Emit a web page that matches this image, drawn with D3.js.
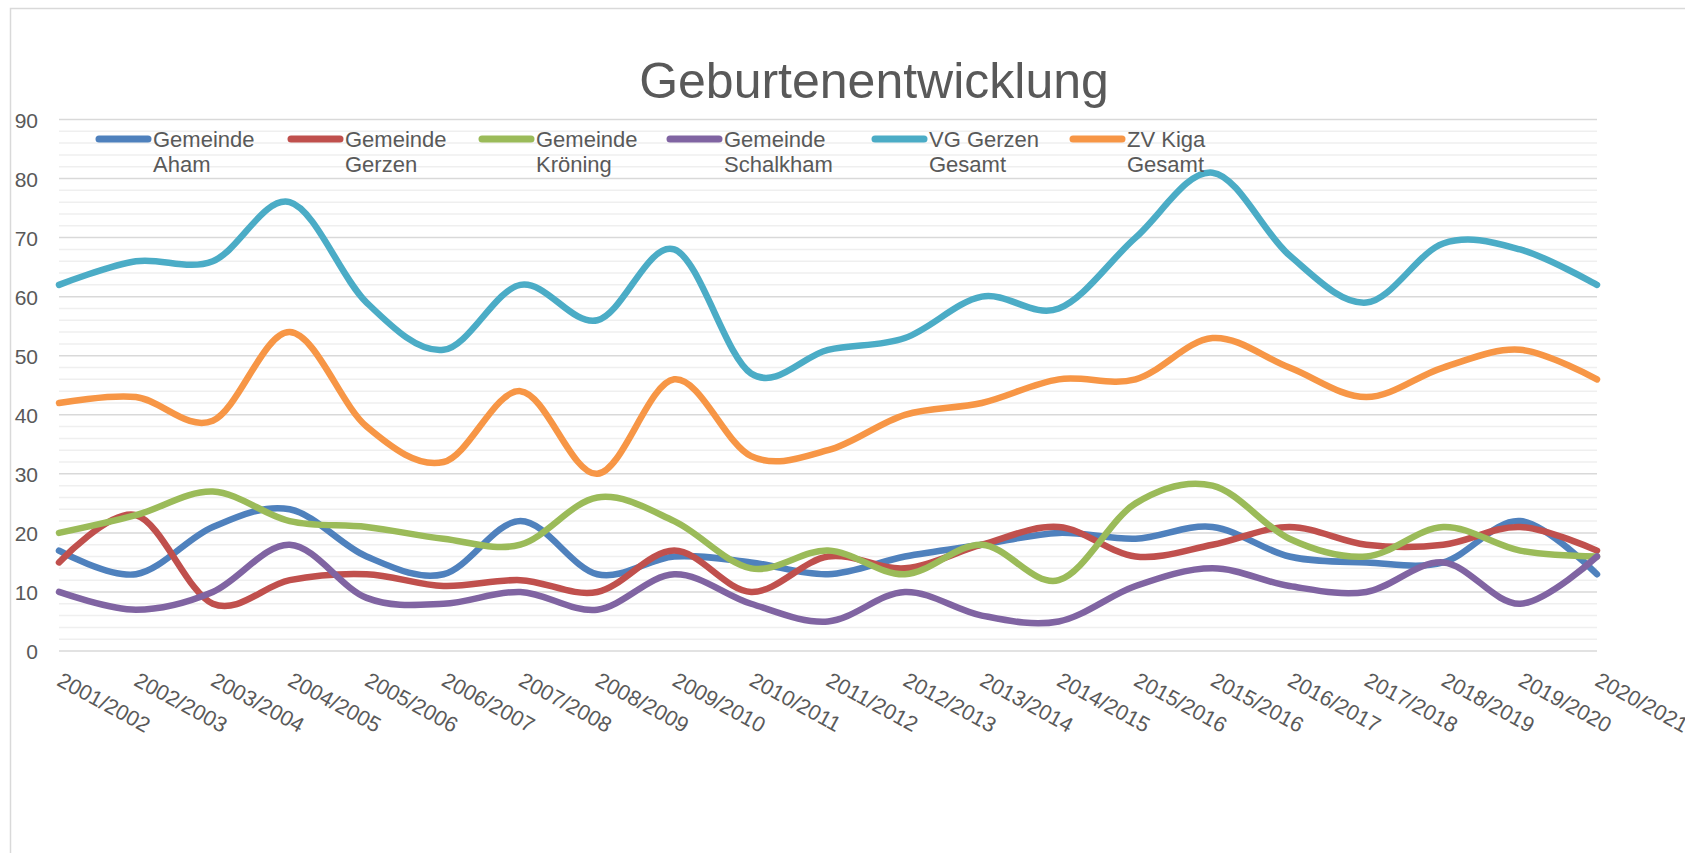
<!DOCTYPE html>
<html>
<head>
<meta charset="utf-8">
<script src="https://cdnjs.cloudflare.com/ajax/libs/d3/7.8.5/d3.min.js"></script>
<style>
	body { margin: 0; background: #fff; }
	svg text { font-family: "Liberation Sans", Arial, sans-serif; fill: #595959; }
</style>
</head>
<body>
<div id="chart"></div>
<script>
// Data
var years = ["2001/2002","2002/2003","2003/2004","2004/2005","2005/2006","2006/2007","2007/2008",
	"2008/2009","2009/2010","2010/2011","2011/2012","2012/2013","2013/2014","2014/2015",
	"2015/2016","2015/2016","2016/2017","2017/2018","2018/2019","2019/2020","2020/2021"];
var aham      = [17,13,21,24,16,13,22,13,16,15,13,16,18,20,19,21,16,15,15,22,13];
var gerzen    = [15,23, 8,12,13,11,12,10,17,10,16,14,18,21,16,18,21,18,18,21,17];
var kroening  = [20,23,27,22,21,19,18,26,22,14,17,13,18,12,25,28,19,16,21,17,16];
var schalkham = [10, 7,10,18, 9, 8,10, 7,13, 8, 5,10, 6, 5,11,14,11,10,15, 8,16];
var vgGesamt  = [62,66,66,76,59,51,62,56,68,47,51,53,60,58,70,81,67,59,69,68,62];
var zvGesamt  = [42,43,39,54,38,32,44,30,46,33,34,40,42,46,46,53,48,43,48,51,46];
var seriesNames = [["Gemeinde","Aham"],["Gemeinde","Gerzen"],["Gemeinde","Kröning"],
	["Gemeinde","Schalkham"],["VG Gerzen","Gesamt"],["ZV Kiga","Gesamt"]];
var yTicks = [0,10,20,30,40,50,60,70,80,90];

var series = [aham, gerzen, kroening, schalkham, vgGesamt, zvGesamt];
var colors = ["#4F81BD","#C0504D","#9BBB59","#8064A2","#4BACC6","#F79646"];

// Geometry
var W = 1685, H = 853;
var margin = {left: 59, right: 88, top: 119.5, bottom: 202};
var legendX = [96, 288, 479, 667, 872, 1070];

var svg = d3.select("#chart")
	.append("svg")
		.attr("width", W)
		.attr("height", H);

// outer chart frame (runs off the page on the right / bottom)
svg.append("rect")
	.attr("x", 10.5).attr("y", 8.5)
	.attr("width", W + 20).attr("height", H + 20)
	.attr("fill", "none")
	.attr("stroke", "#d9d9d9")
	.attr("stroke-width", 1.5);

// Scales
var x = d3.scalePoint()
	.domain(d3.range(years.length))
	.range([margin.left, W - margin.right]);
var y = d3.scaleLinear()
	.domain([0, 90])
	.range([H - margin.bottom, margin.top]);

// Grid : minor every 2, major every 10
var g = svg.append("g");
g.selectAll(".minor")
	.data(d3.range(0, 91, 2).filter(function(v){ return v % 10 != 0; }))
	.enter().append("line")
	.attr("x1", margin.left).attr("x2", W - margin.right)
	.attr("y1", function(d){ return y(d); }).attr("y2", function(d){ return y(d); })
	.attr("stroke", "#efefef").attr("stroke-width", 1.5);
g.selectAll(".major")
	.data(yTicks)
	.enter().append("line")
	.attr("x1", margin.left).attr("x2", W - margin.right)
	.attr("y1", function(d){ return y(d); }).attr("y2", function(d){ return y(d); })
	.attr("stroke", "#d9d9d9").attr("stroke-width", 1.5);

// Y axis labels
var yAxis = d3.axisLeft(y).tickValues(yTicks).tickSize(0).tickPadding(0);
var gY = svg.append("g")
	.attr("transform", "translate(38,0)")
	.call(yAxis);
gY.select(".domain").remove();
gY.selectAll("text")
	.attr("font-size", 21)
	.attr("font-family", null)
	.attr("dy", "0.36em");

// X axis labels (rotated)
var xAxis = d3.axisBottom(x).tickSize(0).tickFormat(function(i){ return years[i]; });
var gX = svg.append("g")
	.attr("transform", "translate(0," + (H - margin.bottom) + ")")
	.call(xAxis);
gX.select(".domain").remove();
gX.selectAll("text")
	.attr("font-size", 21.5)
	.attr("font-family", null)
	.attr("text-anchor", "start")
	.attr("y", 0).attr("dy", "0.75em")
	.attr("transform", "translate(4,19.5) rotate(28.5)");

// Lines
var line = d3.line()
	.x(function(d, i){ return x(i); })
	.y(function(d){ return y(d); })
	.curve(d3.curveCatmullRom.alpha(0));

svg.append("g").selectAll("path")
	.data(series)
	.enter().append("path")
	.attr("d", line)
	.attr("fill", "none")
	.attr("stroke", function(d, i){ return colors[i]; })
	.attr("stroke-width", 6.5)
	.attr("stroke-linecap", "round")
	.attr("stroke-linejoin", "round");

// Title
svg.append("text")
	.attr("x", 874).attr("y", 98)
	.attr("text-anchor", "middle")
	.attr("font-size", 50)
	.text("Geburtenentwicklung");

// Legend
var legend = svg.append("g").selectAll("g")
	.data(seriesNames)
	.enter().append("g")
	.attr("transform", function(d, i){ return "translate(" + legendX[i] + ",0)"; });
legend.append("line")
	.attr("x1", 3).attr("x2", 52)
	.attr("y1", 139).attr("y2", 139)
	.attr("stroke", function(d, i){ return colors[i]; })
	.attr("stroke-width", 7)
	.attr("stroke-linecap", "round");
legend.append("text")
	.attr("x", 57).attr("y", 147)
	.attr("font-size", 22)
	.text(function(d){ return d[0]; });
legend.append("text")
	.attr("x", 57).attr("y", 172)
	.attr("font-size", 22)
	.text(function(d){ return d[1]; });
</script>
</body>
</html>
